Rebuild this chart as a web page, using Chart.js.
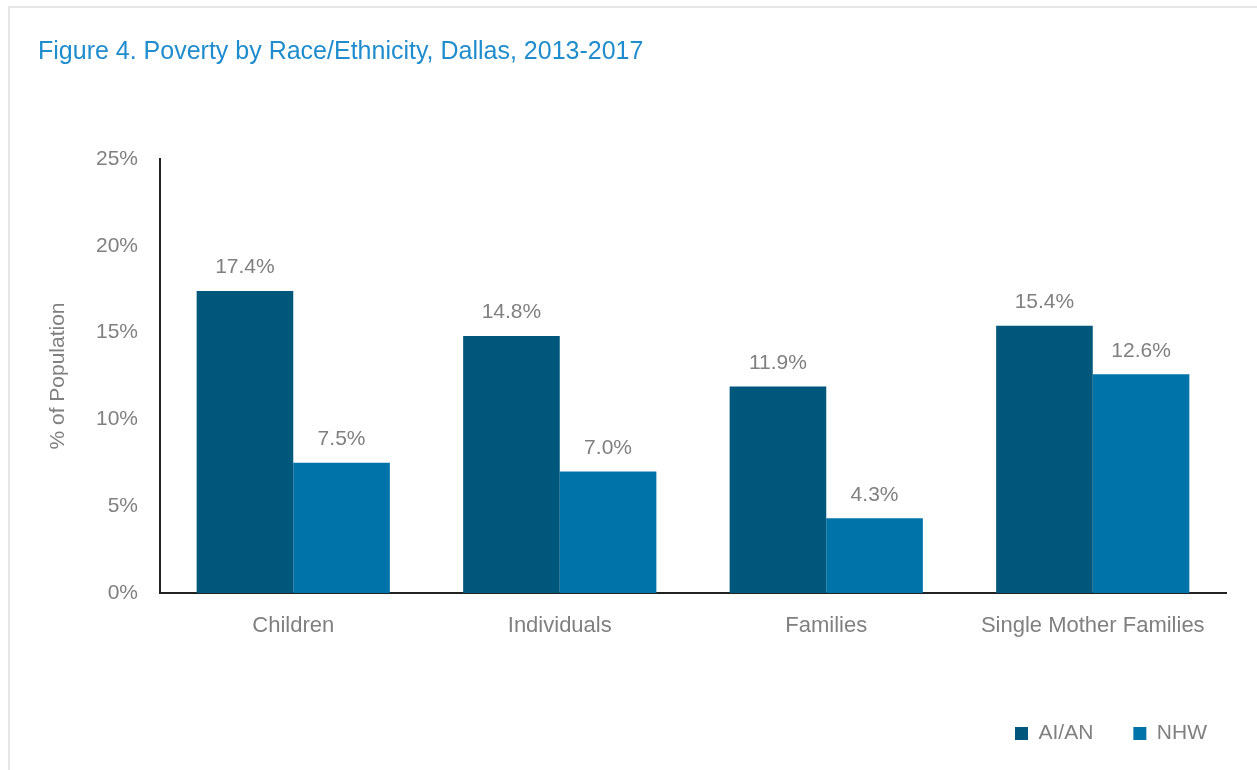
<!DOCTYPE html>
<html>
<head>
<meta charset="utf-8">
<script src="https://cdn.jsdelivr.net/npm/chart.js@4.4.1/dist/chart.umd.min.js"></script>
<style>
  body { margin: 0; background: #fff; }
  #frame { position: absolute; left: 8px; top: 6px; width: 1260px; height: 780px;
           border-top: 2px solid #e6e6e6; border-left: 2px solid #e6e6e6; }
  #chart { position: absolute; left: 0; top: 0; }
</style>
</head>
<body>
<div id="frame"></div>
<canvas id="chart" width="1257" height="770"></canvas>
<script>
const categories = ["Children", "Individuals", "Families", "Single Mother Families"]
const aianValues = [17.4, 14.8, 11.9, 15.4]
const nhwValues = [7.5, 7.0, 4.3, 12.6]
const yTicks = [0, 5, 10, 15, 20, 25]

const fontFamily = "'Liberation Sans Narrow', 'Arial Narrow', 'Liberation Sans', Arial, sans-serif"
const grey = "#808080"

// value labels above each bar
const barLabels = {
  id: "barLabels",
  afterDatasetsDraw(chart) {
    const ctx = chart.ctx
    ctx.save()
    ctx.font = "21px " + fontFamily
    ctx.fillStyle = grey
    ctx.textAlign = "center"
    ctx.textBaseline = "bottom"
    chart.data.datasets.forEach((ds, i) => {
      chart.getDatasetMeta(i).data.forEach((bar, j) => {
        ctx.fillText(ds.data[j].toFixed(1) + "%", bar.x, bar.y - 13)
      })
    })
    ctx.restore()
  }
}

// push the legend a bit further right, like the original
const legendShift = {
  id: "legendShift",
  afterLayout(chart) {
    chart.legend.right += 21
  }
}

const data = {
  labels: categories,
  datasets: [
    { label: "AI/AN", data: aianValues, backgroundColor: "#00577c" },
    { label: "NHW", data: nhwValues, backgroundColor: "#0073a8" }
  ]
}

const config = {
  type: "bar",
  data: data,
  options: {
    responsive: false,
    devicePixelRatio: 1,
    animation: false,
    layout: { padding: { left: 38, right: 31, top: 0, bottom: 16 } },
    datasets: { bar: { categoryPercentage: 0.725, barPercentage: 1 } },
    plugins: {
      title: {
        display: true,
        text: "Figure 4. Poverty by Race/Ethnicity, Dallas, 2013-2017",
        align: "start",
        color: "#1f8dcd",
        font: { family: fontFamily, size: 25, weight: "normal" },
        padding: { top: 37, bottom: 92 }
      },
      legend: {
        position: "bottom",
        align: "end",
        labels: {
          color: grey,
          font: { family: fontFamily, size: 21 },
          boxWidth: 13,
          boxHeight: 13,
          padding: 40
        }
      },
      tooltip: { enabled: false }
    },
    scales: {
      x: {
        grid: { display: false, drawTicks: false },
        border: { color: "#222", width: 2 },
        ticks: { color: grey, font: { family: fontFamily, size: 22 }, padding: 20 },
        afterFit: (axis) => { axis.height = 90 }
      },
      y: {
        min: 0,
        max: 25,
        grid: { display: false, drawTicks: false },
        border: { color: "#222", width: 2 },
        afterBuildTicks: (axis) => { axis.ticks = yTicks.map(v => ({ value: v })) },
        afterFit: (axis) => { axis.width = 122 },
        ticks: {
          color: grey,
          font: { family: fontFamily, size: 21 },
          padding: 22,
          callback: (v) => v + "%"
        },
        title: {
          display: true,
          text: "% of Population",
          color: grey,
          font: { family: fontFamily, size: 21 },
          padding: { top: 8, bottom: 10 }
        }
      }
    }
  },
  plugins: [barLabels, legendShift]
}

new Chart(document.getElementById("chart"), config)
</script>
</body>
</html>
